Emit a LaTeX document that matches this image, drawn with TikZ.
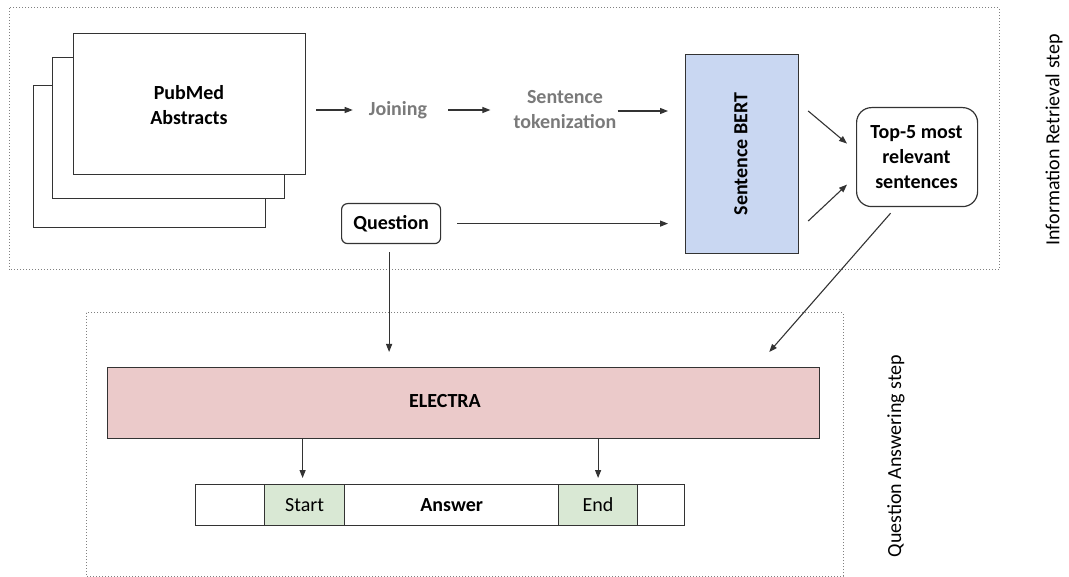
\documentclass[tikz,border=0pt]{standalone}
\usepackage{fontspec}
\setmainfont{Carlito}
\usetikzlibrary{arrows.meta,calc}
\definecolor{linec}{HTML}{333333}
\definecolor{bertfill}{HTML}{C9D7F2}
\definecolor{elecfill}{HTML}{EBCACA}
\definecolor{cellfill}{HTML}{D9E8D4}
\definecolor{graytxt}{HTML}{7A7A7A}
\tikzset{
  box/.style={draw=linec, line width=1.2pt, inner sep=0pt, anchor=north west},
  plain/.style={inner sep=0pt, align=center, font=\fontsize{20}{25}\selectfont},
  arr/.style={draw=linec, line width=1.1pt, -{Triangle[length=8pt,width=6pt]}},
  dotbox/.style={draw=gray, line width=1pt, dash pattern={on 1pt off 2pt}},
  txt/.style={font=\fontsize{20}{25}\selectfont\bfseries, align=center},
}
\begin{document}
\begin{tikzpicture}[x=1pt,y=-1pt]
\useasboundingbox (0,0) rectangle (1069,577);
% dotted frames
\draw[dotbox] (9,8) rectangle (999,270);
\draw[dotbox] (86,313) rectangle (843,576);
% pages
\node[box, fill=white, minimum width=232pt, minimum height=142pt] (page3) at (33,85) {};
\node[box, fill=white, minimum width=232pt, minimum height=141pt] (page2) at (52,57) {};
\node[box, fill=white, minimum width=232pt, minimum height=141pt, txt] (page1) at (73,33) {};
\node[txt] (pubmed) at (189,105) {PubMed\\Abstracts};
% pipeline texts
\node[plain, font=\fontsize{20}{25}\selectfont\bfseries, text=graytxt] (join) at (398,110) {Joining};
\node[plain, font=\fontsize{20}{25}\selectfont\bfseries, text=graytxt] (tok) at (565,110) {Sentence\\tokenization};
% question
\node[box, rounded corners=6pt, minimum width=99pt, minimum height=40pt, txt] (question) at (341,203) {Question};
% BERT
\node[box, fill=bertfill, minimum width=113pt, minimum height=199pt] (bert) at (685,54) {};
\node[txt, rotate=90] (berttxt) at (741,154) {Sentence BERT};
% top 5
\node[box, rounded corners=15pt, minimum width=121pt, minimum height=99pt] (top5) at (856,107) {};
\node[txt] (top5txt) at (916.5,157) {Top-5 most\\relevant\\sentences};
% ELECTRA
\node[box, fill=elecfill, minimum width=712pt, minimum height=71pt] (electra) at (107,367) {};
\node[txt] (electratxt) at (445,401) {ELECTRA};
% answer row
\node[box, minimum width=69pt, minimum height=41pt] (c0) at (195,484) {};
\node[box, fill=cellfill, minimum width=80pt, minimum height=41pt, font=\fontsize{20}{25}\selectfont] (start) at (264,484) {Start};
\node[box, minimum width=214pt, minimum height=41pt, txt] (ans) at (344,484) {Answer};
\node[box, fill=cellfill, minimum width=79pt, minimum height=41pt, font=\fontsize{20}{25}\selectfont] (endc) at (558,484) {End};
\node[box, minimum width=47pt, minimum height=41pt] (c4) at (637,484) {};
% side labels
\node[plain, rotate=90] (irlabel) at (1054,140) {Information Retrieval step};
\node[plain, rotate=90] (qalabel) at (896,456) {Question Answering step};
% arrows
\draw[arr, shorten <=10pt, shorten >=16pt] (page1.east |- join) -- (join.west);
\draw[arr, shorten <=21pt, shorten >=23pt] (join.east) -- (join.east -| tok.west);
\draw[arr, shorten <=1pt, shorten >=17pt] ($(tok.east)+(0,1)$) -- ($(tok.east -| bert.west)+(0,1)$);
\draw[arr, shorten <=16pt, shorten >=17pt] (question.east) -- (question.east -| bert.west);
\draw[arr] ($(bert.north east)+(9,57)$) -- ($(top5.west)+(-9,-13.5)$);
\draw[arr] ($(bert.north east)+(9,167)$) -- ($(top5.west)+(-9,27.5)$);
\draw[arr] ($(top5.south)+(-26.5,6)$) -- ($(electra.north east)+(-51,-15)$);
\draw[arr, shorten <=8pt, shorten >=15pt] ($(question.south)+(-2,0)$) -- ($(question.south |- electra.north)+(-2,0)$);
\draw[arr, shorten >=6pt] ($(electra.south -| start)+(-2,0)$) -- ($(start.north)+(-2,0)$);
\draw[arr, shorten >=6pt] (electra.south -| endc) -- (endc.north);
\end{tikzpicture}
\end{document}
